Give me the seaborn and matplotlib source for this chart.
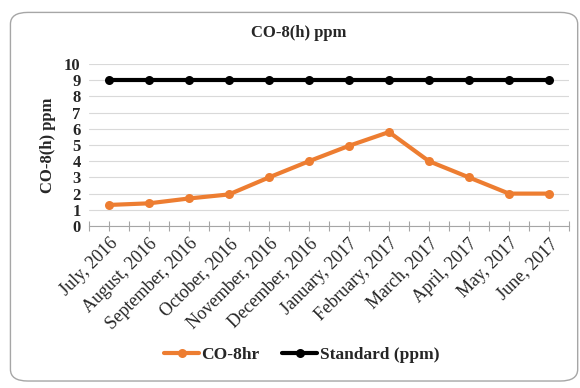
import matplotlib
matplotlib.use("Agg")
import matplotlib.pyplot as plt
import seaborn as sns
import pandas as pd
from matplotlib.patches import FancyBboxPatch
from matplotlib.lines import Line2D

months = ["July, 2016", "August, 2016", "September, 2016", "October, 2016",
          "November, 2016", "December, 2016", "January, 2017", "February, 2017",
          "March, 2017", "April, 2017", "May, 2017", "June, 2017"]
co_8hr = [1.3, 1.4, 1.7, 1.95, 3.0, 4.0, 4.95, 5.8, 4.0, 3.0, 2.0, 2.0]
standard = [9, 9, 9, 9, 9, 9, 9, 9, 9, 9, 9, 9]
series_names = ["CO-8hr", "Standard (ppm)"]
colors = ["#ED7D31", "#000000"]

df = pd.DataFrame({
    "x": list(range(len(months))) * 2,
    "value": co_8hr + standard,
    "series": [series_names[0]] * len(months) + [series_names[1]] * len(months),
})

sns.set_theme(style="white")
plt.rcParams["font.family"] = ["Liberation Serif", "DejaVu Serif"]

fig = plt.figure(figsize=(5.8, 3.88), dpi=100)
fig.patch.set_facecolor("white")
border = FancyBboxPatch((0.018, 0.018), 0.978, 0.95,
                        boxstyle="round,pad=0,rounding_size=0.03",
                        transform=fig.transFigure, facecolor="white",
                        edgecolor="#A6A6A6", linewidth=1.0, zorder=-10)
fig.patches.append(border)

ax = fig.add_axes([0.1534, 0.4175, 0.8276, 0.4175])
ax.set_facecolor("none")
sns.lineplot(data=df, x="x", y="value", hue="series", palette=colors,
             marker="o", markersize=6.5, markeredgewidth=0, linewidth=3,
             ax=ax, legend=False, zorder=3)

ax.set_xlim(-0.5, len(months) - 0.5)
ax.set_ylim(0, 10)
ax.set_yticks(range(0, 11))
ax.set_yticklabels([str(i) for i in range(0, 11)], fontsize=12, fontweight="bold")
ax.yaxis.grid(True, color="#D9D9D9", linewidth=0.8)
ax.set_axisbelow(True)
ax.set_xticks(range(len(months)))
ax.set_xticklabels(months, rotation=45, ha="right", rotation_mode="anchor", fontsize=13)
ax.set_xticks([i - 0.5 for i in range(len(months) + 1)], minor=True)
ax.tick_params(axis="x", which="both", direction="inout", length=7, width=0.8,
               color="#A6A6A6", bottom=True, pad=3)
ax.tick_params(axis="y", length=0, pad=6)
for s in ["top", "right", "left"]:
    ax.spines[s].set_visible(False)
ax.spines["bottom"].set_color("#A6A6A6")
ax.spines["bottom"].set_linewidth(0.8)
ax.set_xlabel("")
ax.set_ylabel("CO-8(h) ppm", fontsize=12, fontweight="bold", labelpad=6)

fig.text(0.515, 0.915, "CO-8(h) ppm", ha="center", va="center",
         fontsize=12, fontweight="bold")

handles = [Line2D([0], [0], color=c, linewidth=3, marker="o", markersize=6.5,
                  markeredgewidth=0) for c in colors]
fig.legend(handles, series_names, loc="center", bbox_to_anchor=(0.52, 0.085),
           ncol=2, frameon=False, prop={"weight": "bold", "size": 12.5},
           handlelength=2.0, handletextpad=0.15, columnspacing=1.3)

fig.savefig("out.png", dpi=100, facecolor="white")
